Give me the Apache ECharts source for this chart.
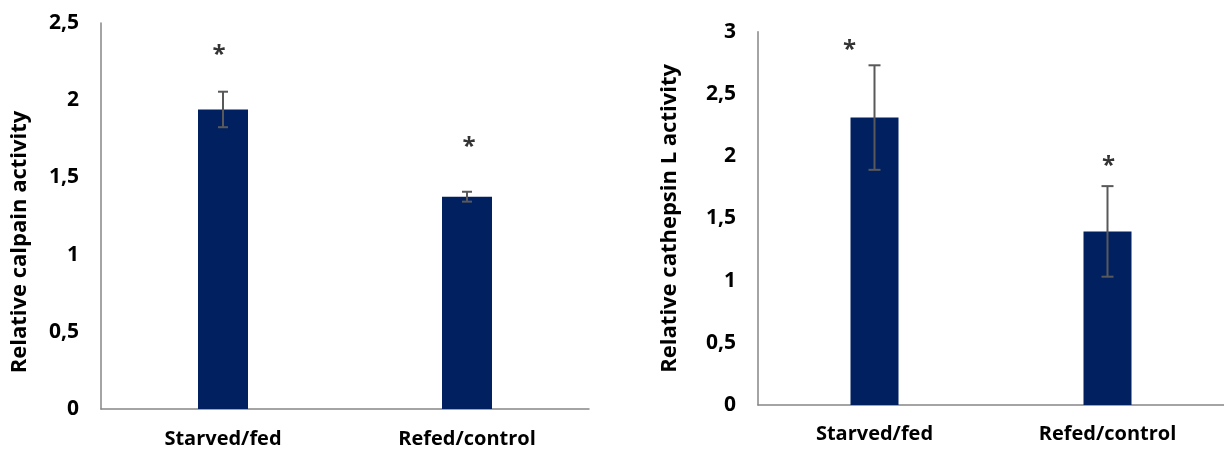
<!DOCTYPE html>
<html>
<head>
<meta charset="utf-8">
<script src="https://cdn.jsdelivr.net/npm/echarts@6/dist/echarts.min.js"></script>
<style>html,body{margin:0;padding:0;background:#fff}#c{width:1224px;height:450px}</style>
</head>
<body>
<div id="c"></div>
<script>
var categories = ['Starved/fed', 'Refed/control'];
var calpainMean = [1.94, 1.375];
var calpainErr = [0.115, 0.032];
var calpainStar = [2.34, 1.74];
var cathepsinMean = [2.31, 1.395];
var cathepsinErr = [0.42, 0.364];
var cathepsinStar = [2.91, 1.975];
var calpainTicks = ['0', '0,5', '1', '1,5', '2', '2,5'];
var cathepsinTicks = ['0', '0,5', '1', '1,5', '2', '2,5', '3'];

var FONT = 'Open Sans';
var BAR = '#002060';
var ERR = '#595959';
var AXIS = '#868686';

function errSeries(xi, yi, means, errs, capW) {
  return {
    type: 'custom', xAxisIndex: xi, yAxisIndex: yi, z: 5,
    data: means.map(function (m, i) { return [i, m - errs[i], m + errs[i]]; }),
    renderItem: function (params, api) {
      var x = api.coord([api.value(0), 0])[0];
      var lo = api.coord([api.value(0), api.value(1)])[1];
      var hi = api.coord([api.value(0), api.value(2)])[1];
      var st = { stroke: ERR, lineWidth: 2 };
      return { type: 'group', children: [
        { type: 'line', shape: { x1: x, y1: lo, x2: x, y2: hi }, style: st },
        { type: 'line', shape: { x1: x - capW / 2, y1: lo, x2: x + capW / 2, y2: lo }, style: st },
        { type: 'line', shape: { x1: x - capW / 2, y1: hi, x2: x + capW / 2, y2: hi }, style: st }
      ]};
    }
  };
}
function starSeries(xi, yi, vals, offs) {
  return {
    type: 'scatter', xAxisIndex: xi, yAxisIndex: yi, symbolSize: 1, z: 6,
    itemStyle: { color: 'rgba(0,0,0,0)' },
    data: vals.map(function (v, i) {
      return { value: [i, v], label: { offset: [offs[i], 7] } };
    }),
    label: { show: true, position: 'inside', formatter: '*', color: '#000',
      fontFamily: FONT, fontWeight: 'bold', fontSize: 24 }
  };
}
function yAxis(gi, max, ticks, name, pad, gap) {
  return {
    type: 'value', gridIndex: gi, min: 0, max: max, interval: 0.5,
    name: name, nameLocation: 'middle', nameGap: gap,
    nameTextStyle: { fontFamily: FONT, fontWeight: 'bold', fontSize: 22, color: '#000', padding: pad },
    axisLine: { show: true, lineStyle: { color: AXIS, width: 1.5 } },
    axisTick: { show: false }, splitLine: { show: false },
    axisLabel: { margin: 22, fontFamily: FONT, fontWeight: 'bold', fontSize: 21, color: '#000',
      formatter: function (v) { return ticks[Math.round(v * 2)]; } }
  };
}
function xAxis(gi, margin) {
  return {
    type: 'category', gridIndex: gi, data: categories,
    axisLine: { show: true, lineStyle: { color: AXIS, width: 1.5 } },
    axisTick: { show: false },
    axisLabel: { margin: margin, fontFamily: FONT, fontWeight: 'bold', fontSize: 20, color: '#000' }
  };
}

var chart = echarts.init(document.getElementById('c'));
chart.setOption({
  animation: false,
  grid: [
    { left: 101, top: 23, width: 488, bottom: 41 },
    { left: 758, top: 31.7, right: -6, bottom: 45 }
  ],
  xAxis: [xAxis(0, 20), xAxis(1, 19)],
  yAxis: [
    yAxis(0, 2.5, calpainTicks, 'Relative calpain activity', [0, 52, 0, 0], 70),
    yAxis(1, 3, cathepsinTicks, 'Relative cathepsin L activity', [0, 0, 0, 0], 77)
  ],
  series: [
    { type: 'bar', xAxisIndex: 0, yAxisIndex: 0, data: calpainMean, barWidth: 50,
      itemStyle: { color: BAR } },
    errSeries(0, 0, calpainMean, calpainErr, 10),
    starSeries(0, 0, calpainStar, [-4, 2]),
    { type: 'bar', xAxisIndex: 1, yAxisIndex: 1, data: cathepsinMean, barWidth: 48,
      itemStyle: { color: BAR } },
    errSeries(1, 1, cathepsinMean, cathepsinErr, 12),
    starSeries(1, 1, cathepsinStar, [-25, 1])
  ]
});
</script>
</body>
</html>
